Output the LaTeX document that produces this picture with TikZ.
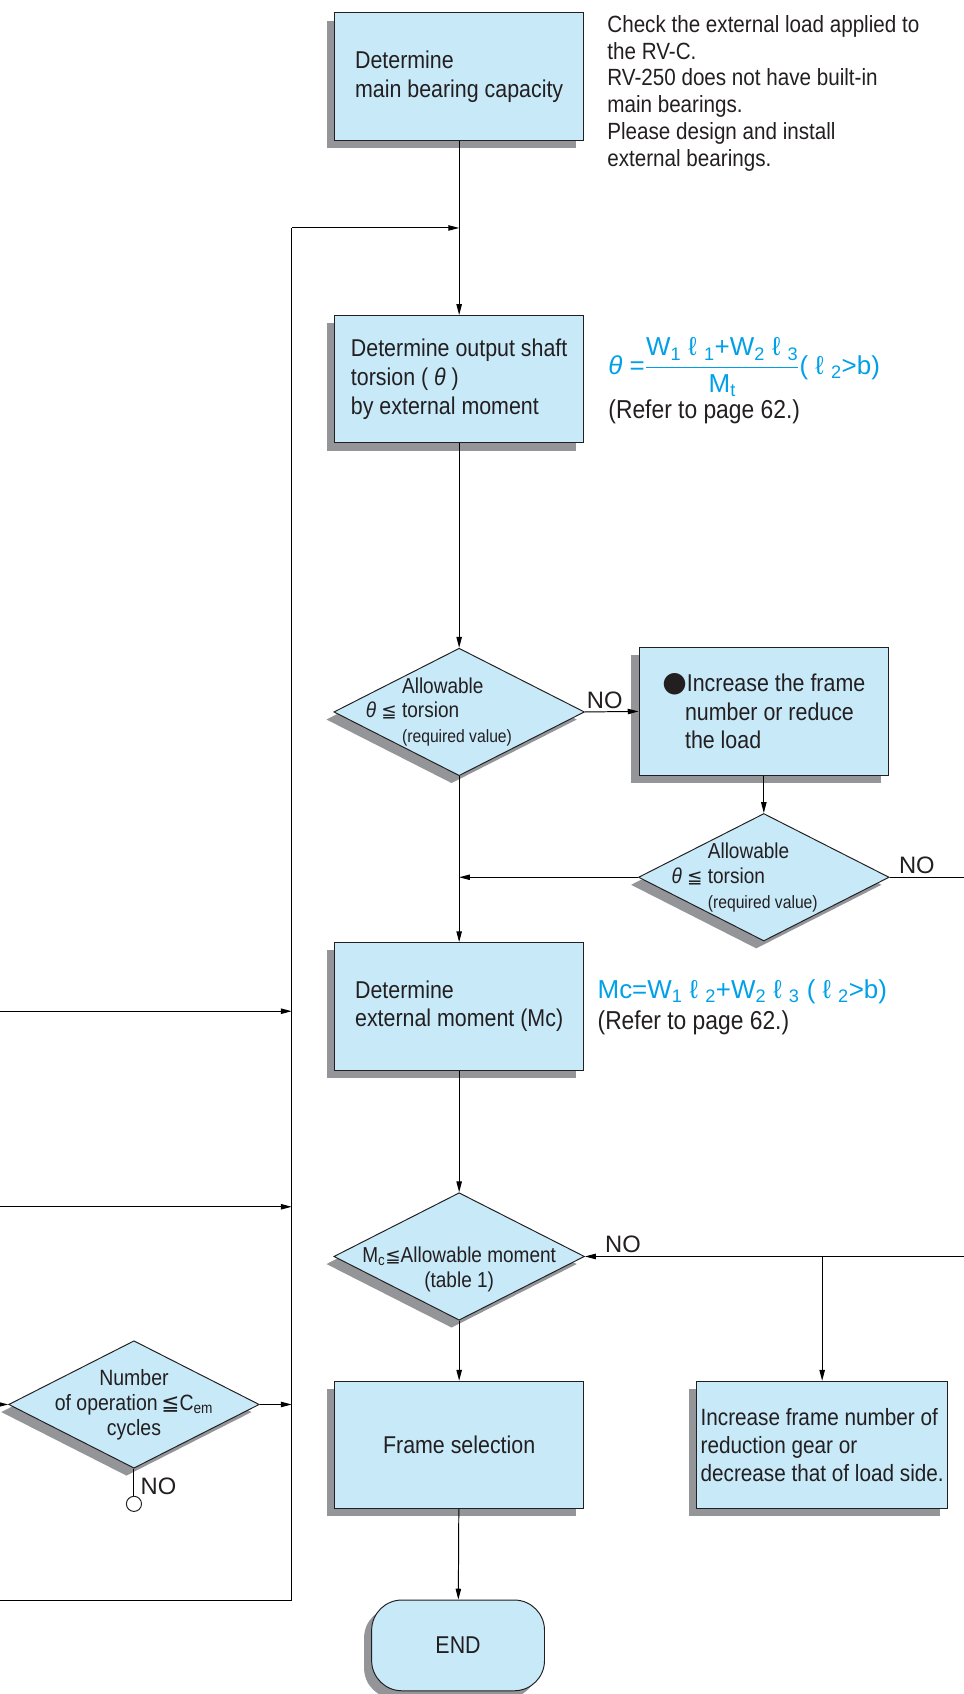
\documentclass[tikz,border=0pt]{standalone}
\usepackage{amsmath}
\usepackage{fontspec}
\setmainfont{Liberation Sans}[FakeStretch=0.88]
\newfontfamily\formfont{Liberation Sans}
\newfontfamily\symfont{DejaVu Sans}
\usetikzlibrary{arrows.meta, positioning, shapes.geometric, shadows}
\definecolor{bleufond}{RGB}{199,233,248}
\definecolor{ombre}{RGB}{147,149,152}
\definecolor{cyanform}{RGB}{0,160,233}
\definecolor{encre}{RGB}{35,31,32}
\newcommand{\leqsym}{{\symfont\fontsize{17}{17}\selectfont ≦}}
\newcommand{\sub}[1]{\textsubscript{#1}}

\begin{document}
\begin{tikzpicture}[x=1pt, y=-1pt,
    ombrage/.style={drop shadow={shadow xshift=-7pt, shadow yshift=-7pt,
                    fill=ombre, opacity=1}},
    etape/.style={rectangle, draw=encre, fill=bleufond, line width=0.9pt,
                  minimum width=231pt, minimum height=118pt, inner sep=0pt,
                  align=left, text=encre, ombrage,
                  font=\fontsize{22.5}{26.5}\selectfont},
    test/.style={diamond, draw=encre, fill=bleufond, line width=0.9pt,
                 minimum width=232pt, minimum height=118pt, inner sep=0pt,
                 ombrage},
    dtexte/.style={align=left, text=encre, inner sep=0pt,
                   font=\fontsize{20}{23}\selectfont},
    note/.style={align=left, text=encre, inner sep=0pt,
                 font=\fontsize{21.7}{24.8}\selectfont},
    formule/.style={text=cyanform, inner sep=0pt,
                    font=\formfont\fontsize{24}{28}\selectfont},
    etiq/.style={text=encre, inner sep=0pt, font=\formfont\fontsize{22}{22}\selectfont},
    fleche/.style={-{Triangle[length=10pt, width=5pt]}, line width=0.9pt},
    trait/.style={line width=0.9pt}
  ]
    \useasboundingbox (0,0) rectangle (892,1568);

    % Noeuds, colonne principale
    \node[etape] (b1) at (425,71) {Determine\\main bearing capacity};
    \node[etape] (b2) at (425,351) {Determine output shaft\\torsion ( \textit{θ} )\\by external moment};
    \node[test] (d1) at (425,659) {};
    \node[etape] (b4) at (425,931.5) {Determine\\external moment (Mc)};
    \node[test] (d3) at (425,1163) {};
    \node[etape] (b5) at (425,1337.5) {Frame selection};
    \node[etape, rounded corners=28pt, minimum width=160pt, minimum height=84pt]
      (fin) at (424,1523) {END};

    % Noeuds, branche droite
    \node[etape] (b3) at (707,658.5)
      {{\symfont\fontsize{26}{26}\selectfont ●}Increase the frame\\\hspace*{21pt}number or reduce\\\hspace*{21pt}the load};
    \node[test] (d2) at (707,812) {};
    \node[etape, minimum width=232pt, font=\fontsize{21.8}{26}\selectfont] (b6) at (761,1337.5)
      {Increase frame number of\\reduction gear or\\decrease that of load side.};

    % Noeud, branche gauche
    \node[test] (d4) at (124,1300) {};
    \node[circle, draw=encre, fill=white, line width=0.9pt, minimum size=14pt,
          inner sep=0pt] (rond) at (124,1392) {};

    % Textes des losanges
    \node[dtexte, anchor=west] (t1) at (372,659)
      {Allowable\\\llap{\textit{θ} \leqsym\ }torsion\\{\fontsize{16.5}{20}\selectfont (required value)}};
    \node[dtexte, anchor=west] (t2) at (655,812)
      {Allowable\\\llap{\textit{θ} \leqsym\ }torsion\\{\fontsize{16.5}{20}\selectfont (required value)}};
    \node[dtexte, align=center] (t3) at (425,1175)
      {M\sub{c}\leqsym Allowable moment\\(table 1)};
    \node[dtexte, align=center, font=\fontsize{20.5}{23}\selectfont] (t4) at (124,1300)
      {Number\\of operation\,{\symfont\fontsize{20}{20}\selectfont ≦}C\sub{em}\\cycles};

    % Notes
    \node[note, anchor=north west] (n1) at (562,14)
      {Check the external load applied to\\the RV-C.\\RV-250 does not have built-in\\main bearings.\\Please design and install\\external bearings.};
    \node[formule, anchor=west] (f1) at (563,340)
      {\textit{θ} =$\dfrac{\text{W\sub{1} ℓ \sub{1}+W\sub{2} ℓ \sub{3}}}{\text{M\sub{t}}}$( ℓ \sub{2}>b)};
    \node[note, anchor=west, font=\fontsize{24}{26}\selectfont] (r1) at (563,381) {(Refer to page 62.)};
    \node[formule, anchor=west] (f2) at (553,918)
      {Mc=W\sub{1} ℓ \sub{2}+W\sub{2} ℓ \sub{3} ( ℓ \sub{2}>b)};
    \node[note, anchor=west, font=\fontsize{24}{26}\selectfont] (r2) at (553,947) {(Refer to page 62.)};

    % Points de jonction
    \coordinate (j1) at (425,211);
    \coordinate (c1) at (270,211);
    \coordinate (c2) at (270,1481);
    \coordinate (c3) at (0,1481);
    \coordinate (j2) at (425,812);
    \coordinate (k3) at (892,812);
    \coordinate (k1) at (892,1163);
    \coordinate (k2) at (761,1163);
    \coordinate (g1) at (0,936);
    \coordinate (h1) at (270,936);
    \coordinate (g2) at (0,1117);
    \coordinate (h2) at (270,1117);
    \coordinate (g3) at (0,1300);
    \coordinate (h3) at (270,1300);

    % Fleches colonne principale
    \draw[fleche] (b1) -- (b2);
    \draw[fleche] (b2) -- (d1);
    \draw[fleche] (d1) -- (b4);
    \draw[fleche] (b4) -- (d3);
    \draw[fleche] (d3) -- (b5);
    \draw[fleche] (b5) -- (fin);

    % Boucle de retour
    \draw[trait] (c3) -- (c2) -- (c1);
    \draw[fleche] (c1) -- (j1);
    \draw[fleche] (g1) -- (h1);
    \draw[fleche] (g2) -- (h2);
    \draw[fleche] (g3) -- (d4.west);
    \draw[fleche] (d4.east) -- (h3);
    \draw[trait] (d4.south) -- (rond);
    \node[etiq, anchor=west] at (130,1376) {NO};

    % Branche NO
    \draw[fleche] (d1.east) -- (b3.west);
    \node[etiq, anchor=west] at (543,648) {NO};
    \draw[fleche] (b3) -- (d2);
    \draw[fleche] (d2.west) -- (j2);
    \draw[trait] (d2.east) -- (k3);
    \node[etiq, anchor=west] at (832,801) {NO};
    \draw[fleche] (k1) -- (d3.east);
    \node[etiq, anchor=west] at (560,1152) {NO};
    \draw[fleche] (k2) -- (b6);
\end{tikzpicture}
\end{document}
